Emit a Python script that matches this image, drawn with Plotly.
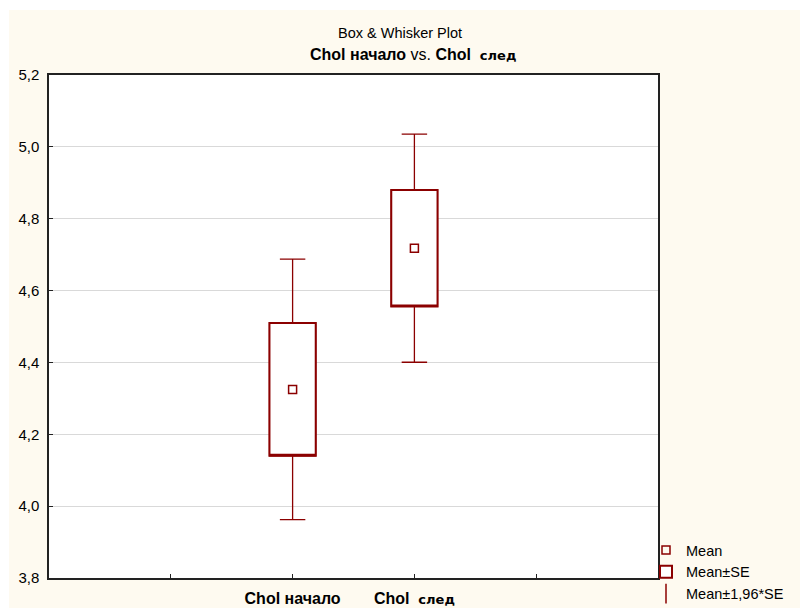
import plotly.graph_objects as go

# Summary statistics per variable (mean and standard error)
categories = ["Chol начало", "Chol след"]
positions = [2, 3]
means = [4.325, 4.718]
std_errors = [0.185, 0.162]
z_factor = 1.96

y_ticks = [3.8, 4.0, 4.2, 4.4, 4.6, 4.8, 5.0, 5.2]

se_low = [m - s for m, s in zip(means, std_errors)]
se_high = [m + s for m, s in zip(means, std_errors)]
ci_low = [m - z_factor * s for m, s in zip(means, std_errors)]
ci_high = [m + z_factor * s for m, s in zip(means, std_errors)]

RED = "#8B0000"
FONT = "Liberation Sans, Arial, sans-serif"
CREAM = "#FEFAF0"

fig = go.Figure()

# Whiskers: mean ± 1.96*SE (thin lines with caps)
fig.add_trace(go.Box(
    x=positions, q1=se_low, median=se_low, q3=se_high,
    lowerfence=ci_low, upperfence=ci_high,
    width=0.38, whiskerwidth=0.55,
    line=dict(color=RED, width=1.3), fillcolor="white",
    boxpoints=False, showlegend=False, hoverinfo="skip",
))

# Boxes: mean ± SE (heavier outline)
fig.add_trace(go.Box(
    x=positions, q1=se_low, median=se_low, q3=se_high,
    lowerfence=se_low, upperfence=se_high,
    width=0.38, whiskerwidth=0,
    line=dict(color=RED, width=2), fillcolor="white",
    boxpoints=False, name="Mean±SE", legendrank=2,
))

# Mean markers
fig.add_trace(go.Scatter(
    x=positions, y=means, mode="markers", name="Mean", legendrank=1,
    marker=dict(symbol="square-open", size=8, color=RED, line=dict(width=1.5)),
))

# Legend entry for the whiskers
fig.add_trace(go.Scatter(
    x=[None], y=[None], mode="markers", name="Mean±1,96*SE", legendrank=3,
    marker=dict(symbol="line-ns-open", size=14, color=RED, line=dict(width=1.5, color=RED)),
))

axis_common = dict(
    showline=True, mirror=True, linecolor="#222", linewidth=1.5,
    ticks="inside", ticklen=4, tickcolor="#222", zeroline=False,
)

SLED = "<span style='font-family:DejaVu Sans;font-size:13px'><b>след</b></span>"

fig.update_xaxes(
    range=[0, 5], tickvals=[1, 2, 3, 4],
    ticktext=["", "<b>Chol начало</b>", "<b>Chol</b>  " + SLED, ""],
    showgrid=False, ticklabelstandoff=5,
    tickfont=dict(family=FONT, size=16, color="black"),
    **axis_common,
)
fig.update_yaxes(
    range=[3.8, 5.2], tickvals=y_ticks, tickformat=".1f",
    showgrid=True, gridcolor="#D9D9D9", gridwidth=1,
    ticklabelstandoff=5,
    tickfont=dict(family=FONT, size=15, color="black"),
    **axis_common,
)

fig.add_annotation(
    text="Box & Whisker Plot", xref="paper", yref="paper",
    x=(400 - 49) / 609, y=(578 - 33) / 503, showarrow=False,
    xanchor="center", yanchor="middle",
    font=dict(family=FONT, size=14.5, color="black"),
)
fig.add_annotation(
    text="<b>Chol начало</b> vs. <b>Chol</b>  " + SLED, xref="paper", yref="paper",
    x=(413 - 49) / 609, y=(578 - 55) / 503, showarrow=False,
    xanchor="center", yanchor="middle",
    font=dict(family=FONT, size=16, color="black"),
)

# thin white border at the left and top edges of the page
fig.add_shape(type="rect", xref="paper", yref="paper",
              x0=-49 / 609, x1=-40 / 609, y0=-30 / 503, y1=578 / 503,
              fillcolor="white", line=dict(width=0), layer="below")
fig.add_shape(type="rect", xref="paper", yref="paper",
              x0=-49 / 609, x1=751 / 609, y0=568 / 503, y1=578 / 503,
              fillcolor="white", line=dict(width=0), layer="below")

fig.update_layout(
    width=800, height=608,
    margin=dict(l=49, r=142, t=75, b=30, autoexpand=False),
    paper_bgcolor=CREAM, plot_bgcolor="white",
    separators=", ",
    boxmode="overlay",
    showlegend=True,
    legend=dict(
        x=(646 - 49) / 609, y=(578 - 610) / 503, xanchor="left", yanchor="bottom",
        bgcolor="rgba(0,0,0,0)", font=dict(family=FONT, size=14.5, color="black"),
        itemwidth=30, tracegroupgap=0,
    ),
    font=dict(family=FONT),
)

fig.write_html("out.html")
